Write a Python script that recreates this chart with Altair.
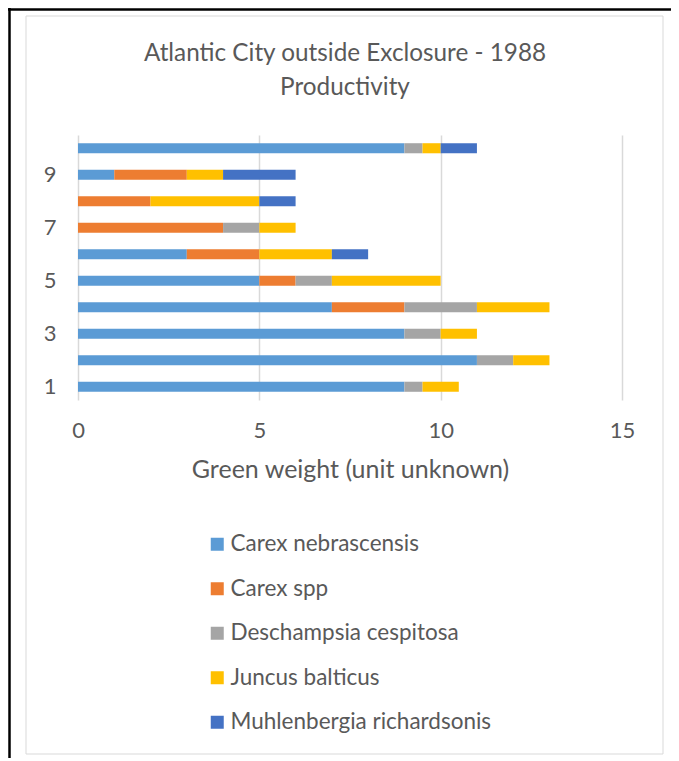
import altair as alt
import pandas as pd

sites = [1, 2, 3, 4, 5, 6, 7, 8, 9, 10]
species = ["Carex nebrascensis", "Carex spp", "Deschampsia cespitosa",
           "Juncus balticus", "Muhlenbergia richardsonis"]
carex_nebrascensis = [9, 11, 9, 7, 5, 3, 0, 0, 1, 9]
carex_spp = [0, 0, 0, 2, 1, 2, 4, 2, 2, 0]
deschampsia_cespitosa = [0.5, 1, 1, 2, 1, 0, 1, 0, 0, 0.5]
juncus_balticus = [1, 1, 1, 2, 3, 2, 1, 3, 1, 0.5]
muhlenbergia_richardsonis = [0, 0, 0, 0, 0, 1, 0, 1, 2, 1]
colors = ["#5B9BD5", "#ED7D31", "#A5A5A5", "#FFC000", "#4472C4"]
x_ticks = [0, 5, 10, 15]

series = [carex_nebrascensis, carex_spp, deschampsia_cespitosa,
          juncus_balticus, muhlenbergia_richardsonis]
rows = []
for i, (name, vals) in enumerate(zip(species, series)):
    for s, v in zip(sites, vals):
        rows.append({"site": s, "species": name, "value": v, "idx": i})
df = pd.DataFrame(rows)

FONT = "Lato"
GREY = "#595959"

bars = alt.Chart(df).mark_bar().encode(
    x=alt.X("value:Q", stack="zero",
            scale=alt.Scale(domain=[0, 15], nice=False),
            axis=alt.Axis(values=x_ticks, title="Green weight (unit unknown)",
                          grid=True, gridColor="#d9d9d9", gridWidth=1.5,
                          ticks=False, domain=False, labelPadding=20,
                          labelFlush=False,
                          titlePadding=16, labelFontSize=22, titleFontSize=25)),
    y=alt.Y("site:O", sort="descending",
            scale=alt.Scale(paddingInner=0.62, paddingOuter=0.31),
            axis=alt.Axis(labelExpr="datum.value % 2 == 1 ? datum.label : ''",
                          ticks=False, domain=False, grid=False, title=None,
                          labelPadding=22, labelFontSize=22)),
    color=alt.Color("species:N",
                    scale=alt.Scale(domain=species, range=colors),
                    legend=alt.Legend(orient="none", legendX=128, legendY=398,
                                      title=None, symbolType="square",
                                      symbolSize=169, symbolStrokeWidth=0,
                                      labelFontSize=22.5, labelOffset=2,
                                      rowPadding=21.5, direction="vertical",
                                      labelLimit=400)),
    order=alt.Order("idx:Q"),
)

one = pd.DataFrame({"a": [0]})
border = alt.Chart(one).mark_rect(fill="transparent", stroke="#d9d9d9",
                                  strokeWidth=1).encode(
    x=alt.value(-52), x2=alt.value(585), y=alt.value(-119), y2=alt.value(619))
top_line = alt.Chart(one).mark_rule(color="black", strokeWidth=2.5).encode(
    x=alt.value(-70), x2=alt.value(600), y=alt.value(-125.5))
left_line = alt.Chart(one).mark_rule(color="black", strokeWidth=2.5).encode(
    x=alt.value(-68.5), y=alt.value(-127), y2=alt.value(640))

chart = alt.layer(border, top_line, left_line, bars).properties(
    width=544, height=265,
    padding={"left": 70, "top": 127, "right": 49, "bottom": 358},
    autosize=alt.AutoSizeParams(type="none"),
    title=alt.Title(["Atlantic City outside Exclosure - 1988", "Productivity"],
                    fontSize=24.3, font=FONT, color=GREY, fontWeight="normal",
                    lineHeight=34, offset=34, dy=128, dx=-5, anchor="middle"),
).configure_view(stroke=None).configure_axis(
    labelFont=FONT, titleFont=FONT, labelColor=GREY, titleColor=GREY,
    titleFontWeight="normal"
).configure_legend(labelFont=FONT, labelColor=GREY)

chart.save("out.html", embed_options={"renderer": "svg", "actions": False})
